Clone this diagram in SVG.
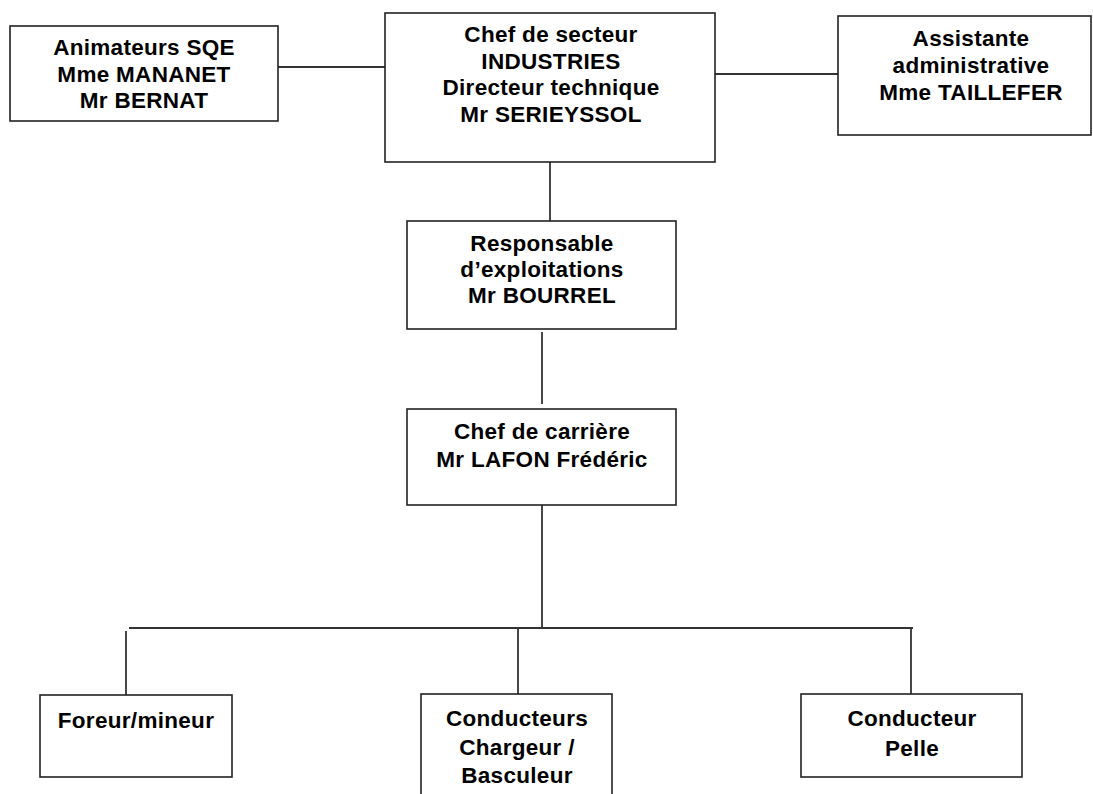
<svg xmlns="http://www.w3.org/2000/svg" width="1093" height="794" viewBox="0 0 1093 794">
<style>
.box{fill:#fff;stroke:#222;stroke-width:1.6}
.ln{fill:none;stroke:#333;stroke-width:1.8}
text{font-family:"Liberation Sans",Arial,sans-serif;font-weight:bold;font-size:22.5px;letter-spacing:0.3px;fill:#000;text-anchor:middle}
</style>
<rect width="1093" height="794" fill="#fff"/>
<g id="connectors">
<line class="ln" x1="278" y1="67" x2="385" y2="67"/>
<line class="ln" x1="715" y1="74" x2="838" y2="74"/>
<line class="ln" x1="550" y1="162" x2="550" y2="221"/>
<line class="ln" x1="542" y1="332" x2="542" y2="404"/>
<line class="ln" x1="542" y1="505" x2="542" y2="628"/>
<line class="ln" x1="129" y1="628" x2="913" y2="628"/>
<line class="ln" x1="126" y1="631" x2="126" y2="695"/>
<line class="ln" x1="518" y1="628" x2="518" y2="694"/>
<line class="ln" x1="911" y1="628" x2="911" y2="694"/>
</g>
<g id="animateurs">
<rect class="box" x="10" y="26" width="268" height="95"/>
<text x="144" y="55">Animateurs SQE</text>
<text x="144" y="82">Mme MANANET</text>
<text x="144" y="108">Mr BERNAT</text>
</g>
<g id="chef-secteur">
<rect class="box" x="385" y="13" width="330" height="149"/>
<text x="551" y="42">Chef de secteur</text>
<text x="551" y="69">INDUSTRIES</text>
<text x="551" y="95">Directeur technique</text>
<text x="551" y="122">Mr SERIEYSSOL</text>
</g>
<g id="assistante">
<rect class="box" x="838" y="16" width="253" height="119"/>
<text x="971" y="46">Assistante</text>
<text x="971" y="73">administrative</text>
<text x="971" y="100">Mme TAILLEFER</text>
</g>
<g id="responsable">
<rect class="box" x="407" y="221" width="269" height="108"/>
<text x="542" y="251">Responsable</text>
<text x="542" y="277">d’exploitations</text>
<text x="542" y="303">Mr BOURREL</text>
</g>
<g id="chef-carriere">
<rect class="box" x="407" y="409" width="269" height="96"/>
<text x="542" y="439">Chef de carrière</text>
<text x="542" y="467">Mr LAFON Frédéric</text>
</g>
<g id="foreur">
<rect class="box" x="40" y="695" width="192" height="82"/>
<text x="136" y="728">Foreur/mineur</text>
</g>
<g id="conducteurs">
<rect class="box" x="421" y="694" width="191" height="110"/>
<text x="517" y="726">Conducteurs</text>
<text x="517" y="755">Chargeur /</text>
<text x="517" y="783">Basculeur</text>
</g>
<g id="pelle">
<rect class="box" x="801" y="694" width="221" height="83"/>
<text x="912" y="726">Conducteur</text>
<text x="912" y="756">Pelle</text>
</g>
</svg>
